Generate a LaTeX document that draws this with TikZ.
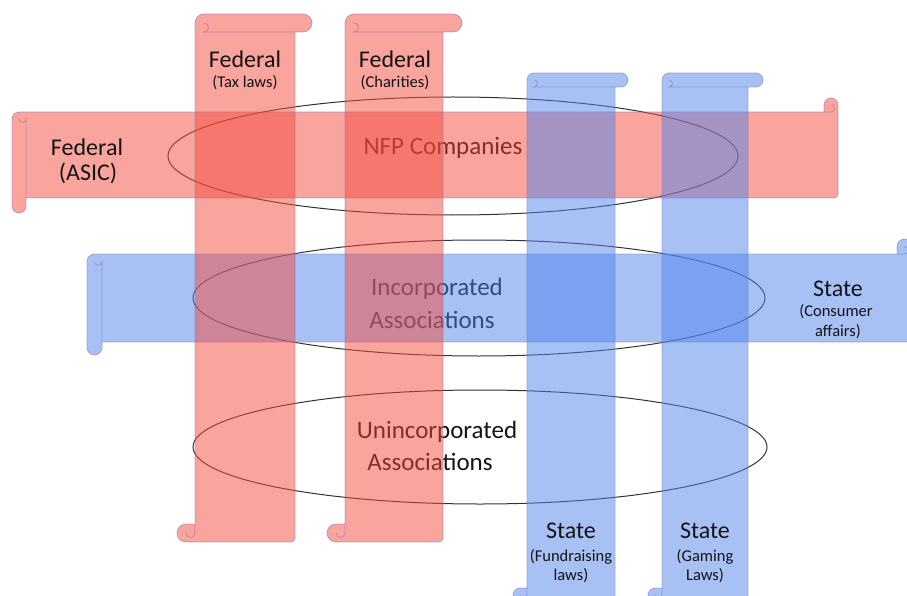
\documentclass[tikz,border=0pt]{standalone}
\usepackage{fontspec}
\setmainfont{Carlito}

\definecolor{fedred}{RGB}{243,75,61}
\definecolor{stateblue}{RGB}{80,132,235}
\definecolor{rimcol}{RGB}{120,110,170}
\definecolor{inkcol}{RGB}{20,20,20}

\tikzset{
  scrollrim/.style={draw=rimcol, draw opacity=.5, line width=.8pt},
  groupring/.style={draw=black!80, line width=1pt},
  group/.style={font=\fontsize{25}{30}\selectfont, text=inkcol, anchor=base, inner sep=0pt},
  title/.style={font=\fontsize{24}{28}\selectfont, text=inkcol, anchor=base, inner sep=0pt},
  subtitle/.style={font=\fontsize{16.5}{20}\selectfont, text=inkcol, anchor=base, inner sep=0pt},
}

% vertical scroll: left, right, top, bottom, roll, overhang, colour
\newcommand{\vscroll}[7]{%
  \pgfmathsetmacro\scrh{#5/2}
  \pgfmathsetmacro\scrq{#5/4}
  \path[fill=#7, fill opacity=.5, scrollrim]
    (#1+\scrh,#3) -- (#2+#6-\scrh,#3) arc[start angle=-90,end angle=90,radius=\scrh]
    -- (#2,#3+#5) -- (#2,#4-4) arc[start angle=0,end angle=90,radius=4]
    -- (#1-\scrh,#4) arc[start angle=90,end angle=270,radius=\scrh]
    -- (#1,#4-#5) -- (#1,#3+\scrh) arc[start angle=180,end angle=270,radius=\scrh] -- cycle;
  \draw[scrollrim] (#2,#3+#5) -- (#1+\scrh,#3+#5) arc[start angle=90,end angle=-90,radius=\scrq];
  \draw[scrollrim] (#1,#4-#5) -- (#1,#4-\scrh) arc[start angle=0,end angle=180,radius=\scrq];
}
% horizontal scroll: left, right, top, bottom, roll, overhang, colour
\newcommand{\hscroll}[7]{%
  \pgfmathsetmacro\scrh{#5/2}
  \pgfmathsetmacro\scrq{#5/4}
  \path[fill=#7, fill opacity=.5, scrollrim]
    (#1,#4+#6-\scrh) -- (#1,#3+\scrh) arc[start angle=180,end angle=270,radius=\scrh]
    -- (#2-#5,#3) -- (#2-#5,#3-#5+\scrh) arc[start angle=180,end angle=360,radius=\scrh]
    -- (#2,#4-4) arc[start angle=0,end angle=90,radius=4]
    -- (#1+#5,#4) -- (#1+#5,#4+#6-\scrh) arc[start angle=0,end angle=180,radius=\scrh] -- cycle;
  \draw[scrollrim] (#1+#5,#4) -- (#1+#5,#3+\scrh) arc[start angle=0,end angle=180,radius=\scrq];
  \draw[scrollrim] (#2-#5,#3) -- (#2-\scrh,#3) arc[start angle=90,end angle=-90,radius=\scrq];
}

\begin{document}
\begin{tikzpicture}[x=1pt,y=-1pt]
  \useasboundingbox (0,0) rectangle (907,596);
  \clip (0,0) rectangle (907,596);

  % the three kinds of body
  \draw[groupring] (453,156) ellipse[x radius=285, y radius=59];
  \draw[groupring] (479,298) ellipse[x radius=286, y radius=58];
  \draw[groupring] (480,447) ellipse[x radius=287, y radius=57];
  \node[group] (nfp) at (443,155) {NFP Companies};
  \node[group] (inc1) at (437,295) {Incorporated};
  \node[group] (inc2) at (432,328) {Associations};
  \node[group] (uninc1) at (437,438) {Unincorporated};
  \node[group] (uninc2) at (430,470) {Associations};

  % regulators
  \hscroll{12}{838}{112}{198}{14}{15}{fedred}
  \hscroll{87}{912}{254}{342}{15}{13}{stateblue}
  \vscroll{195}{295}{14}{542}{18}{17}{fedred}
  \vscroll{345}{443}{14}{542}{18}{19}{fedred}
  \vscroll{527}{615}{73}{602}{14}{13}{stateblue}
  \vscroll{662}{748}{73}{602}{14}{15}{stateblue}

  \node[title] (asic1) at (87,156) {Federal};
  \node[title] (asic2) at (88,181) {(ASIC)};
  \node[title] (tax1) at (245,68) {Federal};
  \node[subtitle] (tax2) at (245,88) {(Tax laws)};
  \node[title] (char1) at (395,68) {Federal};
  \node[subtitle] (char2) at (395,88) {(Charities)};
  \node[title] (cons1) at (838,296) {State};
  \node[subtitle] (cons2) at (836,316) {(Consumer};
  \node[subtitle] (cons3) at (838,336) {affairs)};
  \node[title] (fund1) at (571,538) {State};
  \node[subtitle] (fund2) at (571,561) {(Fundraising};
  \node[subtitle] (fund3) at (571,580) {laws)};
  \node[title] (game1) at (705,538) {State};
  \node[subtitle] (game2) at (705,561) {(Gaming};
  \node[subtitle] (game3) at (705,580) {Laws)};
\end{tikzpicture}
\end{document}
